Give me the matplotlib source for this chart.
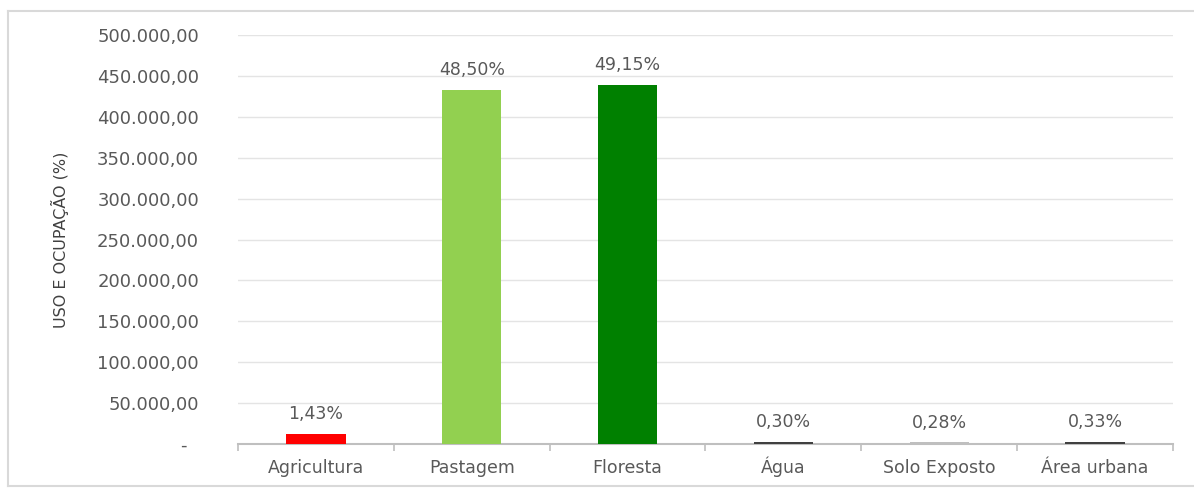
import matplotlib.pyplot as plt
from matplotlib.lines import Line2D
from matplotlib.ticker import FuncFormatter, MultipleLocator

# land use classes and their share of the total area
classes = ["Agricultura", "Pastagem", "Floresta", "Água", "Solo Exposto", "Área urbana"]
share_pct = [1.43, 48.50, 49.15, 0.30, 0.28, 0.33]
total_area = 893500.0
bar_colors = ["#ff0000", "#92d050", "#008000", "#404040", "#bfbfbf", "#404040"]

area = [p / 100.0 * total_area for p in share_pct]

plt.rcParams["font.family"] = ["DejaVu Sans"]
text_gray = "#595959"

fig = plt.figure(figsize=(11.94, 4.90), dpi=100)
ax = fig.add_axes([238 / 1194, 46 / 490, 935 / 1194, 409 / 490])

# light frame around the chart (open on the right)
fx0, fy0, fy1 = 8 / 1194, 4 / 490, 1 - 11 / 490
for xs, ys in [([fx0, 1.0], [fy1, fy1]), ([fx0, fx0], [fy0, fy1]), ([fx0, 1.0], [fy0, fy0])]:
    fig.add_artist(Line2D(xs, ys, transform=fig.transFigure, color="#d9d9d9", linewidth=1.5))

x = list(range(len(classes)))
bars = ax.bar(x, area, width=0.38, color=bar_colors, zorder=3)

for xi, h, p in zip(x, area, share_pct):
    label = f"{p:.2f}%".replace(".", ",")
    ax.annotate(label, (xi, h), xytext=(0, 14), textcoords="offset points",
                ha="center", va="center", fontsize=12.5, color=text_gray)


def br_number(v, pos):
    if v == 0:
        return "-  "
    s = f"{v:,.2f}"
    return s.replace(",", "X").replace(".", ",").replace("X", ".")


ax.set_ylim(0, 500000)
ax.set_xlim(-0.5, len(classes) - 0.5)
ax.yaxis.set_major_locator(MultipleLocator(50000))
ax.yaxis.set_major_formatter(FuncFormatter(br_number))
ax.grid(axis="y", color="#e4e4e4", linewidth=1, zorder=0)

ax.set_xticks(x)
ax.set_xticklabels(classes, va="baseline")
ax.set_xticks([i - 0.5 for i in range(len(classes) + 1)], minor=True)
ax.tick_params(axis="x", which="major", length=0, pad=21, labelsize=12.5, labelcolor=text_gray)
ax.tick_params(axis="x", which="minor", length=5, width=1.2, color="#bfbfbf", direction="out")
ax.tick_params(axis="y", length=0, pad=28, labelsize=13, labelcolor=text_gray)

for side in ["top", "right", "left"]:
    ax.spines[side].set_visible(False)
ax.spines["bottom"].set_color("#bfbfbf")
ax.spines["bottom"].set_linewidth(1.5)

fig.text(60 / 1194, 1 - 240 / 490, "USO E OCUPAÇÃO (%)", rotation=90, ha="center", va="center",
         fontsize=11.5, color="#404040")

fig.savefig("out.png", dpi=100)
